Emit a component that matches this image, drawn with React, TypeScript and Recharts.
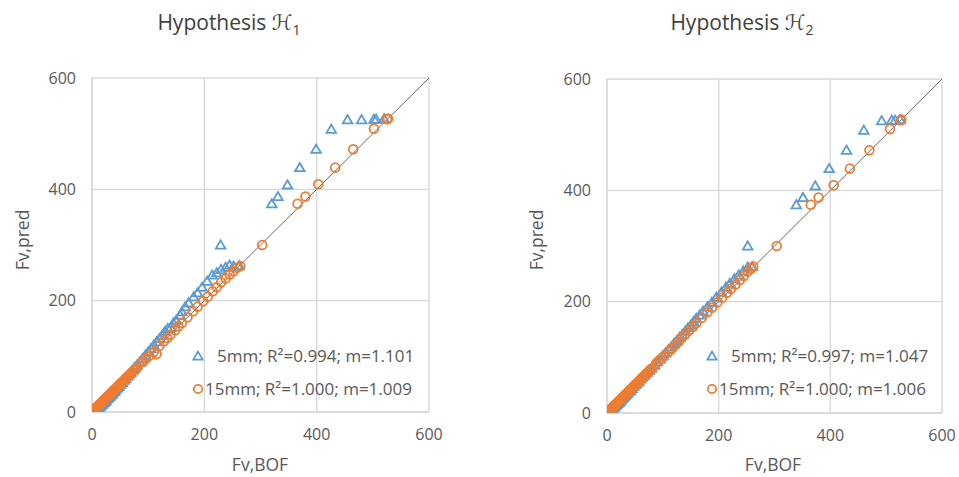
import React from 'react';
import { ScatterChart, Scatter, XAxis, YAxis, CartesianGrid, ReferenceLine } from 'recharts';

const axisTicks = [0, 200, 400, 600];

// Hypothesis H1
const h1Mm5: [number, number][] = [
  [3, 0], [5, 2], [7, 3], [9, 5], [11, 7], [13, 9], [15, 11], [17, 13], [19, 15], [21, 17],
  [23, 19], [25, 21], [27, 24], [29, 26], [31, 28], [33, 30], [35, 32], [37, 34], [40, 37], [42, 40],
  [45, 43], [48, 46], [51, 50], [54, 53], [57, 57], [60, 60], [63, 64], [66, 68], [69, 71], [72, 75],
  [76, 80], [80, 84], [85, 90], [90, 96], [95, 102], [100, 108], [105, 114], [110, 120], [115, 126], [120, 132],
  [125, 138], [130, 145], [135, 150], [140, 152], [145, 160], [150, 165], [157, 174], [160, 180], [166, 189], [172, 196],
  [181, 207], [188, 214], [196, 224], [205, 235], [214, 246], [222, 250], [230, 256], [238, 260], [245, 264], [252, 262],
  [262, 263], [229, 300], [320, 374], [331, 387], [348, 408], [370, 439], [399, 472], [426, 508], [455, 525], [480, 525],
  [502, 526], [506, 526], [520, 527],
];
const h1Mm15: [number, number][] = [
  [1, 1], [2, 2], [3, 3], [4, 4], [5, 5], [6, 6], [8, 8], [9, 9], [10, 10], [12, 12],
  [13, 13], [15, 15], [16, 16], [18, 18], [20, 20], [21, 21], [23, 23], [25, 25], [27, 27], [29, 29],
  [31, 31], [33, 33], [35, 35], [37, 37], [39, 39], [41, 41], [43, 43], [45, 45], [47, 47], [49, 49],
  [51, 51], [53, 53], [55, 55], [58, 58], [60, 60], [62, 62], [65, 65], [67, 67], [70, 70], [72, 72],
  [75, 75], [78, 77], [80, 79], [88, 89], [92, 91], [96, 96], [102, 101], [110, 108], [115, 104], [120, 119],
  [128, 127], [134, 133], [140, 139], [148, 147], [154, 154], [160, 160], [170, 170], [180, 181], [188, 189], [198, 199],
  [206, 207], [215, 217], [222, 224], [230, 233], [238, 240], [245, 247], [252, 253], [258, 259], [264, 262], [303, 300],
  [366, 374], [380, 387], [403, 409], [433, 439], [465, 472], [502, 509], [525, 526], [527, 527],
];

// Hypothesis H2
const h2Mm5: [number, number][] = [
  [3, 1], [5, 3], [7, 5], [9, 7], [11, 9], [13, 11], [15, 13], [17, 15], [19, 17], [21, 19],
  [23, 21], [25, 23], [27, 26], [29, 28], [31, 30], [33, 32], [35, 34], [37, 36], [40, 39], [42, 41],
  [45, 44], [48, 48], [51, 51], [54, 54], [57, 57], [60, 61], [63, 64], [66, 67], [69, 70], [72, 73],
  [76, 77], [80, 81], [85, 86], [90, 92], [95, 97], [100, 103], [105, 108], [110, 114], [115, 119], [120, 125],
  [125, 130], [130, 136], [135, 141], [140, 147], [145, 153], [150, 158], [155, 164], [160, 170], [166, 176], [172, 183],
  [180, 191], [188, 199], [196, 208], [205, 217], [213, 226], [220, 233], [228, 241], [236, 248], [244, 255], [252, 262],
  [260, 263], [252, 300], [339, 374], [351, 387], [373, 408], [398, 439], [429, 472], [460, 508], [492, 525], [510, 526],
  [516, 526], [525, 527],
];
const h2Mm15: [number, number][] = [
  [1, 1], [2, 2], [3, 3], [4, 4], [5, 5], [6, 6], [8, 8], [9, 9], [10, 10], [12, 12],
  [13, 13], [15, 15], [16, 16], [18, 18], [20, 20], [21, 21], [23, 23], [25, 25], [27, 27], [29, 29],
  [31, 31], [33, 33], [35, 35], [37, 37], [39, 39], [41, 41], [43, 43], [45, 45], [47, 47], [49, 49],
  [51, 51], [53, 53], [55, 55], [58, 58], [60, 60], [62, 62], [65, 65], [67, 67], [70, 70], [72, 72],
  [75, 75], [78, 78], [80, 80], [88, 89], [92, 93], [96, 97], [102, 102], [110, 110], [116, 116], [122, 122],
  [128, 128], [134, 135], [140, 141], [148, 149], [154, 155], [160, 161], [170, 171], [180, 181], [188, 189], [198, 199],
  [206, 207], [215, 216], [222, 223], [230, 231], [238, 239], [245, 246], [252, 254], [258, 259], [262, 263], [304, 300],
  [365, 374], [379, 387], [406, 409], [435, 439], [470, 472], [507, 510], [526, 526], [527, 527],
];

const legend1 = ['5mm; R²=0.994; m=1.101', '15mm; R²=1.000; m=1.009'];
const legend2 = ['5mm; R²=0.997; m=1.047', '15mm; R²=1.000; m=1.006'];

const BLUE = '#5B9BD5';
const ORANGE = '#ED7D31';
const GRID = '#D9D9D9';
const TEXT = '#595959';
const FONT = '"Open Sans", "Noto Sans", sans-serif';

const toPts = (arr: [number, number][]) => arr.map(([x, y]) => ({ x, y }));

const Triangle = (props: any) => {
  const { cx, cy } = props;
  if (cx == null || cy == null) return null;
  return (
    <path
      d={`M${cx},${cy - 4.6} L${cx + 4.8},${cy + 3.6} L${cx - 4.8},${cy + 3.6} Z`}
      fill="none"
      stroke={BLUE}
      strokeWidth={1.8}
    />
  );
};

const Circle = (props: any) => {
  const { cx, cy } = props;
  if (cx == null || cy == null) return null;
  return <circle cx={cx} cy={cy} r={4.4} fill="none" stroke={ORANGE} strokeWidth={1.8} />;
};

const LegendBox = ({ labels, left, top, firstIndent }: { labels: string[]; left: number; top: number; firstIndent: number }) => (
  <div style={{ position: 'absolute', left, top, fontFamily: FONT, fontSize: 17, color: TEXT, whiteSpace: 'nowrap' }}>
    <div style={{ display: 'flex', alignItems: 'center', height: 33 }}>
      <svg width={12} height={12} style={{ marginRight: firstIndent }}>
        <path d="M6,1.6 L10.6,9.6 L1.4,9.6 Z" fill="none" stroke={BLUE} strokeWidth={1.8} />
      </svg>
      <span>{labels[0]}</span>
    </div>
    <div style={{ display: 'flex', alignItems: 'center', height: 33 }}>
      <svg width={12} height={12} style={{ marginRight: 1 }}>
        <circle cx={6} cy={6} r={4.2} fill="none" stroke={ORANGE} strokeWidth={1.8} />
      </svg>
      <span>{labels[1]}</span>
    </div>
  </div>
);

type PanelProps = {
  left: number;
  width: number;
  margin: { top: number; right: number; bottom: number; left: number };
  s5: [number, number][];
  s15: [number, number][];
};

const Panel = ({ left, width, margin, s5, s15 }: PanelProps) => (
  <div style={{ position: 'absolute', left, top: 0, width, height: 477 }}>
    <ScatterChart width={width} height={477} margin={margin}>
      <CartesianGrid stroke={GRID} strokeWidth={1.4} />
      <XAxis
        type="number"
        dataKey="x"
        domain={[0, 600]}
        ticks={axisTicks}
        allowDataOverflow
        axisLine={{ stroke: GRID, strokeWidth: 1.4 }}
        tickLine={false}
        tickMargin={11}
        height={50}
        tick={{ fill: TEXT, fontSize: 16, fontFamily: FONT }}
      />
      <YAxis
        type="number"
        dataKey="y"
        domain={[0, 600]}
        ticks={axisTicks}
        allowDataOverflow
        axisLine={{ stroke: GRID, strokeWidth: 1.4 }}
        tickLine={false}
        tickMargin={10}
        width={72}
        tick={{ fill: TEXT, fontSize: 16, fontFamily: FONT }}
      />
      <ReferenceLine
        segment={[{ x: 0, y: 0 }, { x: 600, y: 600 }]}
        stroke="#595959"
        strokeWidth={0.9}
      />
      <Scatter name="5mm" data={toPts(s5)} shape={Triangle} isAnimationActive={false} />
      <Scatter name="15mm" data={toPts(s15)} shape={Circle} isAnimationActive={false} />
    </ScatterChart>
  </div>
);

const Title = ({ cx, sub }: { cx: number; sub: string }) => (
  <div
    style={{
      position: 'absolute',
      left: cx - 150,
      width: 300,
      top: 8,
      textAlign: 'center',
      fontFamily: FONT,
      fontSize: 21,
      color: '#404040',
    }}
  >
    Hypothesis <span style={{ fontFamily: '"DejaVu Sans", sans-serif', fontStyle: 'italic' }}>ℋ</span>
    <sub style={{ fontSize: 14 }}>{sub}</sub>
  </div>
);

const AxisTitle = ({ x, y, text, rotate }: { x: number; y: number; text: string; rotate?: boolean }) => (
  <div
    style={{
      position: 'absolute',
      left: x - 60,
      top: y - 12,
      width: 120,
      height: 24,
      lineHeight: '24px',
      textAlign: 'center',
      fontFamily: FONT,
      fontSize: 17.5,
      color: TEXT,
      transform: rotate ? 'rotate(-90deg)' : undefined,
    }}
  >
    {text}
  </div>
);

export default function App() {
  return (
    <div style={{ position: 'absolute', left: 0, top: 0, width: 959, height: 477, background: '#fff', overflow: 'hidden' }}>
      <Panel
        left={0}
        width={480}
        margin={{ top: 78, right: 51, bottom: 15, left: 20 }}
        s5={h1Mm5}
        s15={h1Mm15}
      />
      <Panel
        left={480}
        width={479}
        margin={{ top: 79, right: 17, bottom: 14, left: 55 }}
        s5={h2Mm5}
        s15={h2Mm15}
      />
      <LegendBox labels={legend1} left={192} top={339} firstIndent={13} />
      <LegendBox labels={legend2} left={706} top={339} firstIndent={13} />
      <Title cx={229} sub="1" />
      <Title cx={742} sub="2" />
      <AxisTitle x={22} y={240} text="Fv,pred" rotate />
      <AxisTitle x={536} y={240} text="Fv,pred" rotate />
      <AxisTitle x={260} y={464} text="Fv,BOF" />
      <AxisTitle x={773} y={464} text="Fv,BOF" />
    </div>
  );
}
